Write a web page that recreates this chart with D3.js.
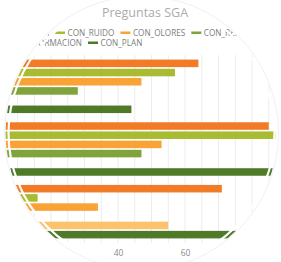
<!DOCTYPE html>
<html>
<head>
<meta charset="utf-8">
<script src="https://cdn.jsdelivr.net/npm/d3@7"></script>
<style>
  html, body { margin: 0; padding: 0; background: #fff; }
  svg { display: block; }
</style>
</head>
<body>
<div id="chart"></div>
<script>
// categories and series
var categories = ["P1", "P2", "P3"];
var seriesNames = ["CON_AGUA", "CON_RUIDO", "CON_OLORES", "CON_RESIDUOS", "CON_FORMACION", "CON_PLAN"];
var conAgua = [64, 85, 71];
var conRuido = [57, 87, 16];
var conOlores = [47, 53, 34];
var conResiduos = [28, 47, 0];
var conFormacion = [0, 0, 55];
var conPlan = [44, 90, 80];
var xTicks = [20, 40, 60, 80];

var colors = ["#f27b27", "#a9bb30", "#f9a236", "#80a33b", "#fcc26c", "#4f7b28"];
var values = [conAgua, conRuido, conOlores, conResiduos, conFormacion, conPlan];

var w = 281, h = 262;
var circle = {cx: 141.5, cy: 133, r: 133};

var svg = d3.select("#chart").append("svg")
  .attr("width", w)
  .attr("height", h);

svg.append("defs").append("clipPath")
  .attr("id", "round")
  .append("circle")
  .attr("cx", circle.cx)
  .attr("cy", circle.cy)
  .attr("r", circle.r + 3);

var g = svg.append("g").attr("clip-path", "url(#round)");

var x = d3.scaleLinear().domain([0, 100]).range([-16, 319]);
var y0 = d3.scaleBand().domain(categories).range([55, 243]).paddingInner(0.12).paddingOuter(0.06);
var y1 = d3.scaleBand().domain(seriesNames).range([0, y0.bandwidth()]).paddingInner(0.18).paddingOuter(0.09);

// gridlines
g.append("g")
  .selectAll("line")
  .data(d3.range(0, 101, 5))
  .enter()
  .append("line")
  .attr("x1", function(d) { return x(d); })
  .attr("x2", function(d) { return x(d); })
  .attr("y1", 55)
  .attr("y2", 243)
  .attr("stroke", "#ececec")
  .attr("stroke-width", 1);

// bars
var rows = [];
categories.forEach(function(c, i) {
  seriesNames.forEach(function(s, j) {
    rows.push({cat: c, name: s, value: values[j][i], color: colors[j]});
  });
});

g.append("g")
  .selectAll("rect")
  .data(rows.filter(function(d) { return d.value > 0; }))
  .enter()
  .append("rect")
  .attr("x", x(0))
  .attr("y", function(d) { return y0(d.cat) + y1(d.name); })
  .attr("width", function(d) { return x(d.value) - x(0); })
  .attr("height", y1.bandwidth())
  .attr("fill", function(d) { return d.color; });

// x axis labels
var xAxis = d3.axisBottom(x).tickValues(xTicks).tickSize(0).tickPadding(7);
var ax = g.append("g")
  .attr("transform", "translate(0,243)")
  .call(xAxis);
ax.select(".domain").remove();
ax.selectAll("text")
  .attr("fill", "#8a8a8a")
  .style("font-family", "Open Sans, sans-serif")
  .style("font-size", "8.5px");

// title
g.append("text")
  .text("Preguntas SGA")
  .attr("x", 145)
  .attr("y", 17)
  .attr("text-anchor", "middle")
  .attr("fill", "#ababab")
  .style("font-family", "Open Sans, sans-serif")
  .style("font-size", "12.5px");

// legend, two rows
var legendRows = [
  {items: [0, 1, 2, 3], anchorItem: 1, anchorX: 55, y: 33},
  {items: [4, 5], anchorItem: 5, anchorX: 88, y: 43}
];
legendRows.forEach(function(row) {
  var lg = g.append("g");
  var entries = row.items.map(function(j) {
    var e = lg.append("g");
    e.append("rect")
      .attr("width", 10).attr("height", 2.5)
      .attr("y", -1.5)
      .attr("fill", colors[j]);
    var t = e.append("text")
      .text(seriesNames[j])
      .attr("x", 12.5)
      .attr("dy", "0.35em")
      .attr("fill", "#7d7d7d")
      .style("font-family", "Open Sans, sans-serif")
      .style("font-size", "8.2px");
    return {j: j, g: e, width: 12.5 + t.node().getComputedTextLength() + 6};
  });
  var pos = 0, anchorPos = 0;
  entries.forEach(function(e) {
    e.x = pos;
    if (e.j === row.anchorItem) anchorPos = pos;
    pos += e.width;
  });
  entries.forEach(function(e) {
    e.g.attr("transform", "translate(" + (row.anchorX - anchorPos + e.x) + "," + row.y + ")");
  });
});

// white ring and faint outer edge
svg.append("circle")
  .attr("cx", circle.cx).attr("cy", circle.cy).attr("r", circle.r)
  .attr("fill", "none").attr("stroke", "#fff").attr("stroke-width", 2.2);
svg.append("circle")
  .attr("cx", circle.cx).attr("cy", circle.cy).attr("r", circle.r + 4)
  .attr("fill", "none").attr("stroke", "#f1f1f1").attr("stroke-width", 1);
</script>
</body>
</html>
